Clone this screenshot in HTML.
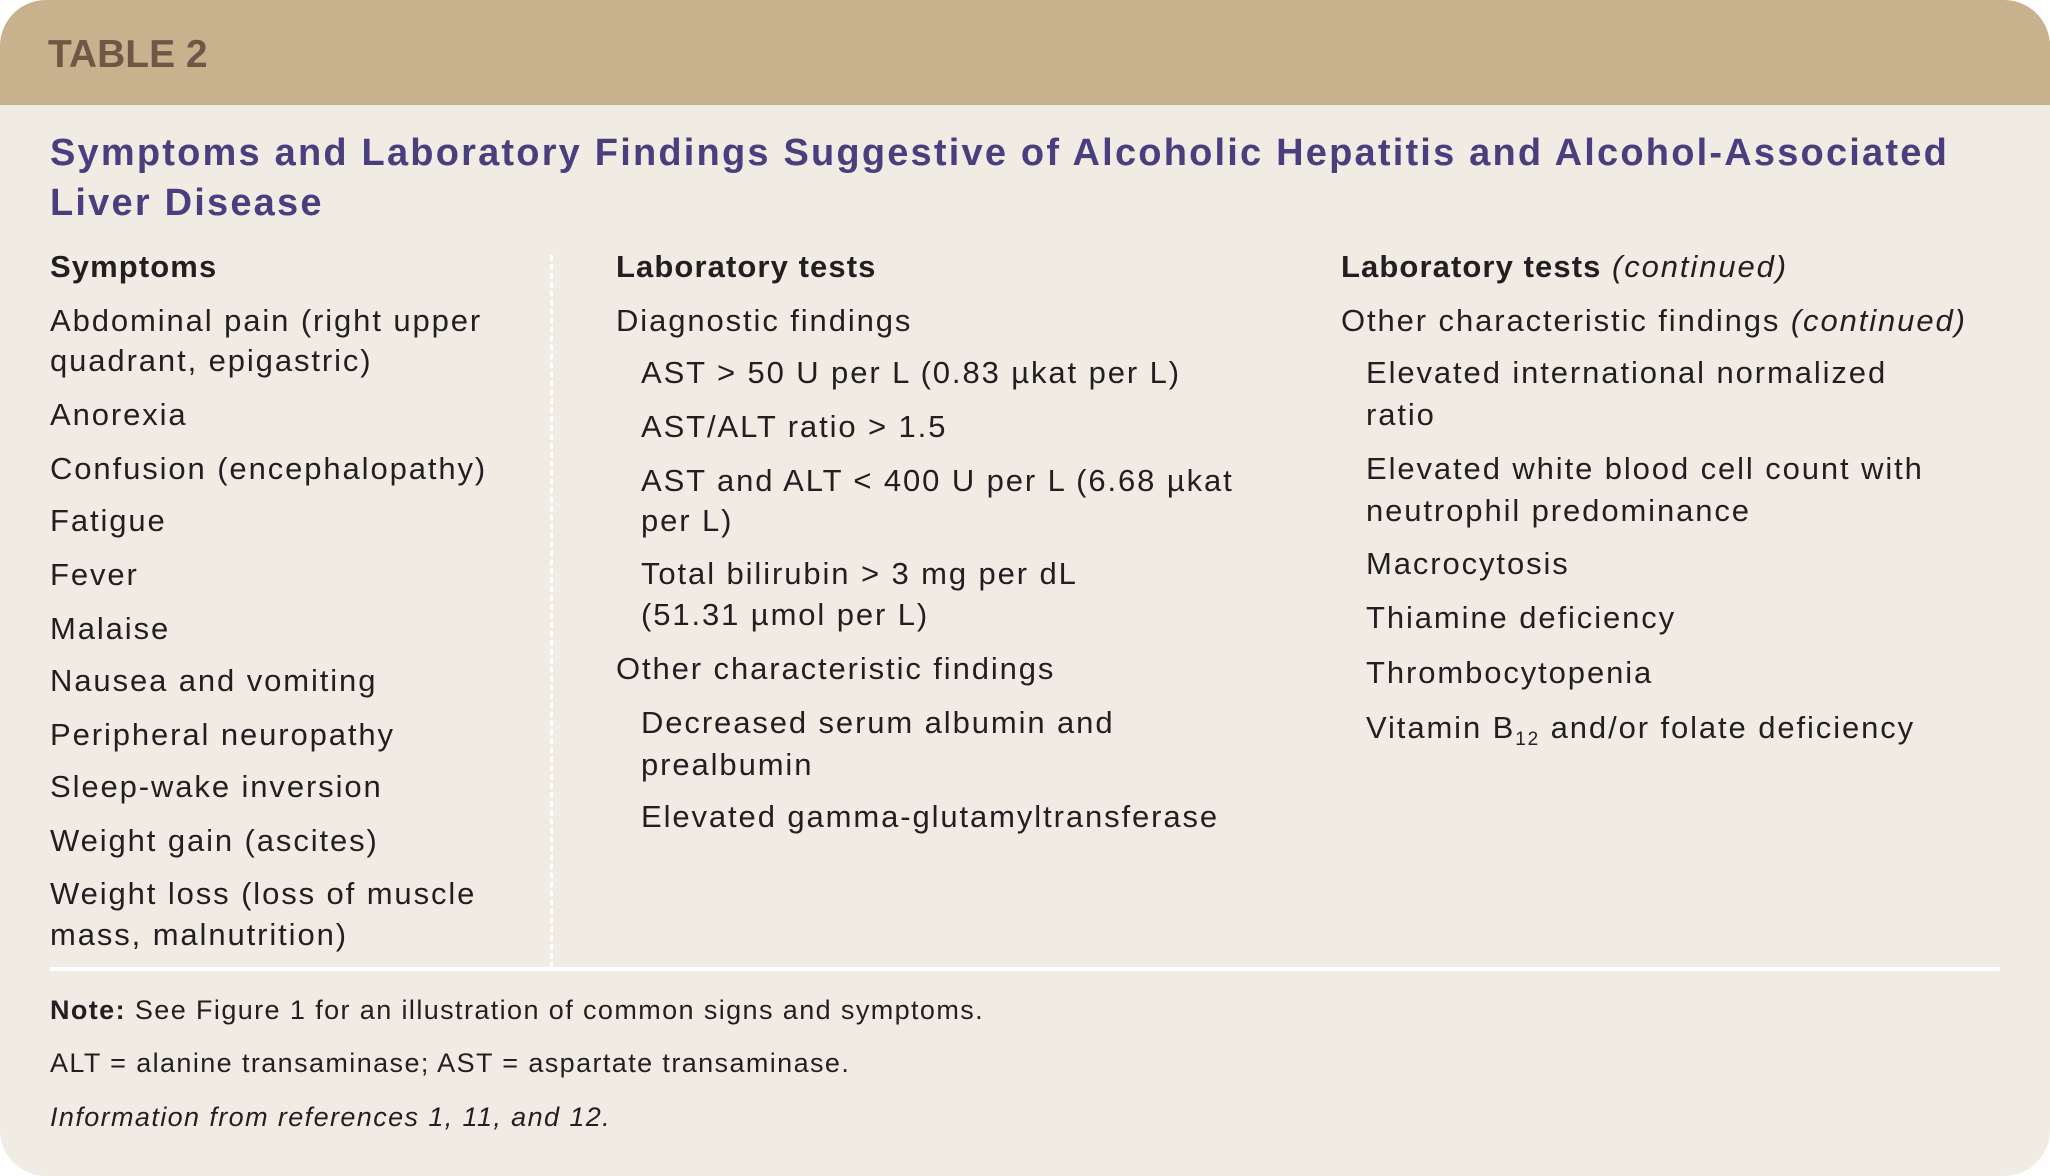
<!DOCTYPE html>
<html><head><meta charset="utf-8"><style>
html,body{margin:0;padding:0;background:#fff;}
#c{position:relative;width:2050px;height:1176px;background:#f1ece3;border-radius:46px;overflow:hidden;font-family:"Liberation Sans",sans-serif;color:#231f20;}
#h{position:absolute;left:0;top:0;width:2050px;height:105px;background:#c8b28e;}
#h span{position:absolute;left:48px;top:30px;font-size:39px;font-weight:bold;color:#6f5747;line-height:50px;letter-spacing:0px;}
.t{position:absolute;left:50px;font-size:38px;font-weight:bold;color:#4a3f7e;line-height:50px;white-space:nowrap;letter-spacing:2.2px;}
.l{position:absolute;font-size:31px;line-height:40px;white-space:nowrap;letter-spacing:1.9px;}
.b,.l b{font-weight:bold;letter-spacing:1.1px;}
.n{position:absolute;left:50px;font-size:27px;line-height:36px;white-space:nowrap;letter-spacing:1.4px;}
#d{position:absolute;left:550px;top:255px;height:713px;border-left:3px dashed #fff;}
#r{position:absolute;left:50px;top:967px;width:1950px;height:4px;background:#fff;}
</style></head><body><div id="c">
<div id="h"><span>TABLE 2</span></div>
<div class="t" style="top:128px">Symptoms and Laboratory Findings Suggestive of Alcoholic Hepatitis and Alcohol-Associated</div>
<div class="t" style="top:178px">Liver Disease</div>
<div id="d"></div><div id="r"></div>

<div class="l b" style="left:50px;top:247px">Symptoms</div>
<div class="l" style="left:50px;top:301px">Abdominal pain (right upper</div>
<div class="l" style="left:50px;top:341px">quadrant, epigastric)</div>
<div class="l" style="left:50px;top:395px">Anorexia</div>
<div class="l" style="left:50px;top:449px">Confusion (encephalopathy)</div>
<div class="l" style="left:50px;top:501px">Fatigue</div>
<div class="l" style="left:50px;top:555px">Fever</div>
<div class="l" style="left:50px;top:609px">Malaise</div>
<div class="l" style="left:50px;top:661px">Nausea and vomiting</div>
<div class="l" style="left:50px;top:715px">Peripheral neuropathy</div>
<div class="l" style="left:50px;top:767px">Sleep-wake inversion</div>
<div class="l" style="left:50px;top:821px">Weight gain (ascites)</div>
<div class="l" style="left:50px;top:874px">Weight loss (loss of muscle</div>
<div class="l" style="left:50px;top:915px">mass, malnutrition)</div>

<div class="l b" style="left:616px;top:247px">Laboratory tests</div>
<div class="l" style="left:616px;top:301px">Diagnostic findings</div>
<div class="l" style="left:641px;top:353px">AST &gt; 50 U per L (0.83 µkat per L)</div>
<div class="l" style="left:641px;top:407px">AST/ALT ratio &gt; 1.5</div>
<div class="l" style="left:641px;top:461px">AST and ALT &lt; 400 U per L (6.68 µkat</div>
<div class="l" style="left:641px;top:501px">per L)</div>
<div class="l" style="left:641px;top:554px">Total bilirubin &gt; 3 mg per dL</div>
<div class="l" style="left:641px;top:595px">(51.31 µmol per L)</div>
<div class="l" style="left:616px;top:649px">Other characteristic findings</div>
<div class="l" style="left:641px;top:703px">Decreased serum albumin and</div>
<div class="l" style="left:641px;top:745px">prealbumin</div>
<div class="l" style="left:641px;top:797px">Elevated gamma-glutamyltransferase</div>

<div class="l" style="left:1341px;top:247px"><b>Laboratory tests</b> <i>(continued)</i></div>
<div class="l" style="left:1341px;top:301px">Other characteristic findings <i>(continued)</i></div>
<div class="l" style="left:1366px;top:353px">Elevated international normalized</div>
<div class="l" style="left:1366px;top:395px">ratio</div>
<div class="l" style="left:1366px;top:449px">Elevated white blood cell count with</div>
<div class="l" style="left:1366px;top:491px">neutrophil predominance</div>
<div class="l" style="left:1366px;top:544px">Macrocytosis</div>
<div class="l" style="left:1366px;top:598px">Thiamine deficiency</div>
<div class="l" style="left:1366px;top:653px">Thrombocytopenia</div>
<div class="l" style="left:1366px;top:708px">Vitamin B<sub style="font-size:19px">12</sub> and/or folate deficiency</div>

<div class="n" style="top:992px"><b>Note:</b> See Figure 1 for an illustration of common signs and symptoms.</div>
<div class="n" style="top:1045px">ALT = alanine transaminase; AST = aspartate transaminase.</div>
<div class="n" style="top:1099px"><i>Information from references 1, 11, and 12.</i></div>
</div></body></html>
